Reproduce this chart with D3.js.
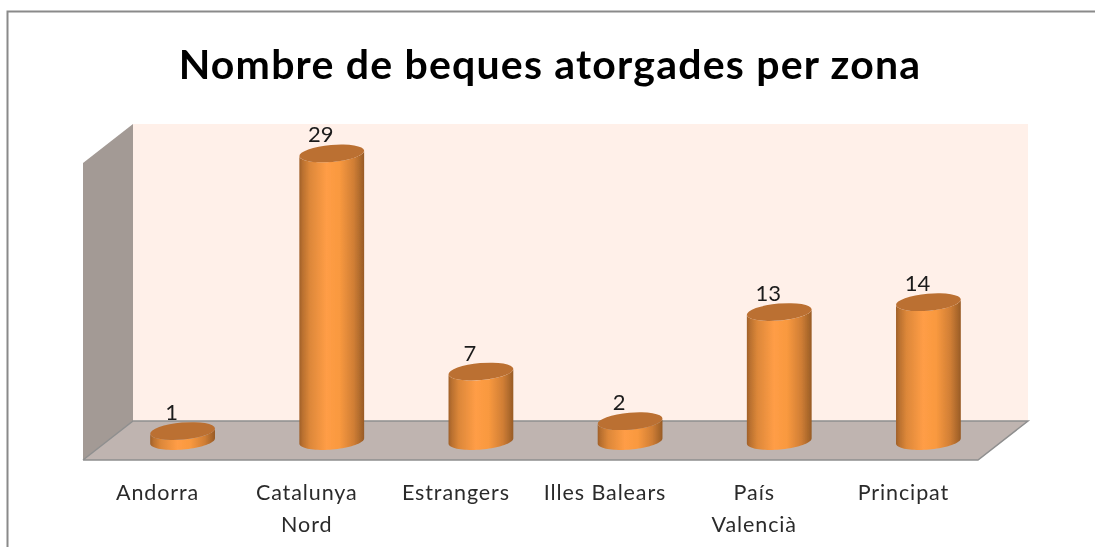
<!DOCTYPE html>
<html><head><meta charset="utf-8">
<style>html,body{margin:0;padding:0;background:#fff}svg{display:block}</style>
<script src="https://cdn.jsdelivr.net/npm/d3@7"></script></head>
<body><svg id="c" width="1095" height="547"></svg>
<script>
const titleText = "Nombre de beques atorgades per zona";
const categories = [["Andorra"],["Catalunya","Nord"],["Estrangers"],["Illes Balears"],["País","Valencià"],["Principat"]];
const values = [1,29,7,2,13,14];

const svg=d3.select("#c");
const defs=svg.append("defs");
const grad=defs.append("linearGradient").attr("id","cyl");
[[0,"#a0602a"],[0.05,"#b9702f"],[0.16,"#dc8739"],[0.42,"#ff9d46"],[0.62,"#f9993f"],[0.84,"#d07e35"],[0.95,"#aa672b"],[1,"#985b26"]]
 .forEach(([o,c])=>grad.append("stop").attr("offset",o).attr("stop-color",c));
const blur=defs.append("filter").attr("id","soft").attr("filterUnits","userSpaceOnUse")
 .attr("x",0).attr("y",0).attr("width",1095).attr("height",547);
blur.append("feGaussianBlur").attr("stdDeviation",0.55);

const root=svg.append("g").attr("filter","url(#soft)");

// frame
root.append("path").attr("d","M7.5,547V11.5H1095").attr("fill","none").attr("stroke","#8a8a8a").attr("stroke-width",2);

// scales
const x=d3.scaleBand().domain(d3.range(values.length)).range([108,1003]).paddingInner(0.564).paddingOuter(0.282);
const y=d3.scaleLinear().domain([0,30]).range([441,143.5]);

// walls
const wall=[[133,124],[1028,124],[1028,421],[133,421]];
const side=[[83,163],[133,124],[133,421],[83,460]];
const floor=[[83,460],[133,421],[1028,421],[978,460]];
const poly=p=>"M"+p.join("L")+"Z";
root.append("path").attr("d",poly(wall)).attr("fill","#fff0e9");
root.append("path").attr("d",poly(side)).attr("fill","#a39a95");
root.append("path").attr("d",poly(floor)).attr("fill","#bfb4b0");
root.append("path").attr("d","M83,460L133,421H1028L978,460H83").attr("fill","none").attr("stroke","#8f8f8f").attr("stroke-width",1.5);

// cylinders: ellipse outline sampled from the scales
const a=x.bandwidth()/2, ry=8.5, tilt=5*Math.PI/180;
const pt=(cx,cy,th)=>{
  const ex=a*Math.cos(th), ey=ry*Math.sin(th);
  return [cx+ex*Math.cos(tilt)+ey*Math.sin(tilt), cy-ex*Math.sin(tilt)+ey*Math.cos(tilt)];
};
const angles=d3.range(0,41).map(k=>k/40*Math.PI);   // right tip -> under -> left tip
const line=d3.line();
const g=root.selectAll("g.bar").data(values).join("g").attr("class","bar");
g.append("path").attr("fill","url(#cyl)").attr("d",(d,i)=>{
  const cx=x(i)+a;
  const lower=angles.map(th=>pt(cx,y(0),th));
  const upper=angles.map(th=>pt(cx,y(d),th)).reverse();
  return line(lower.concat(upper))+"Z";
});
g.append("ellipse").attr("fill","#bb7032")
 .attr("cx",(d,i)=>x(i)+a).attr("cy",d=>y(d)).attr("rx",a).attr("ry",ry)
 .attr("transform",(d,i)=>`rotate(-5 ${x(i)+a} ${y(d)})`);

// value labels
const font="Lato, 'Noto Sans', sans-serif";
g.append("text").attr("x",(d,i)=>x(i)+a-11).attr("y",d=>y(d)-11)
 .attr("text-anchor","middle").attr("font-family",font).attr("font-size",22).attr("fill","#1a1a1a").text(d=>d);

// category labels
const lab=root.selectAll("text.cat").data(categories).join("text").attr("class","cat")
 .attr("text-anchor","middle").attr("font-family",font).attr("font-size",21.5).attr("fill","#2c2c2c").attr("letter-spacing",0.9);
lab.selectAll("tspan").data((d,i)=>d.map(t=>({t,i}))).join("tspan")
 .attr("x",d=>x(d.i)+a-25).attr("y",(d,j)=>500+j*32).text(d=>d.t);

// title
root.append("text").attr("x",550).attr("y",79).attr("text-anchor","middle")
 .attr("font-family",font).attr("font-weight",700).attr("font-size",41).attr("letter-spacing",1.2).attr("fill","#000").text(titleText);
</script></body></html>
